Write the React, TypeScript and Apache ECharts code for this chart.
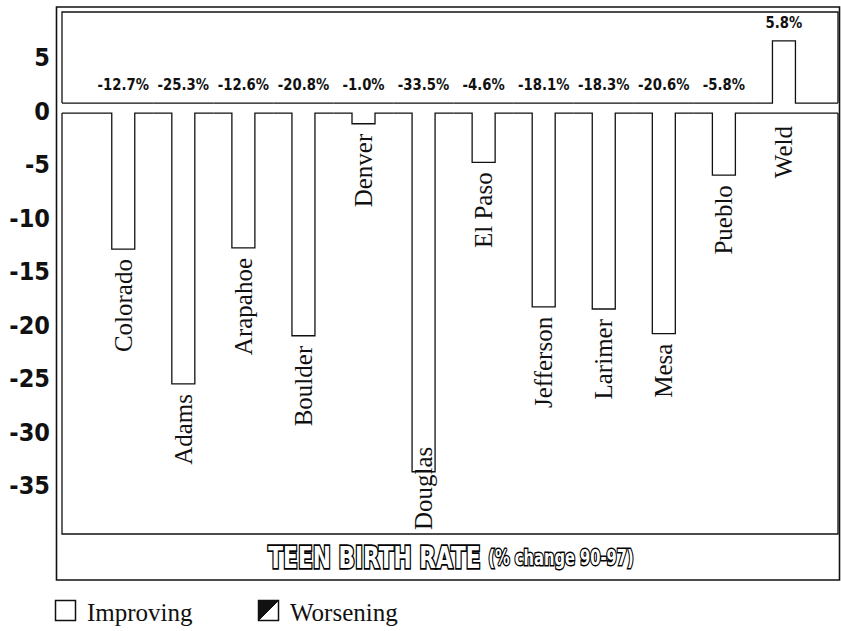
import React, { useEffect, useRef } from "react";
import * as echarts from "echarts";

const COUNTIES = ["Colorado", "Adams", "Arapahoe", "Boulder", "Denver", "Douglas", "El Paso", "Jefferson", "Larimer", "Mesa", "Pueblo", "Weld"];
const CHANGE = [-12.7, -25.3, -12.6, -20.8, -1.0, -33.5, -4.6, -18.1, -18.3, -20.6, -5.8, 5.8];
const Y_TICKS = [5, 0, -5, -10, -15, -20, -25, -30, -35];
const TITLE = "TEEN BIRTH RATE";
const SUBTITLE = "(% change 90-97)";
const LEGEND = ["Improving", "Worsening"];

const COND = '"DejaVu Sans Condensed", "Liberation Sans Narrow", "DejaVu Sans", sans-serif';
const WIDE = '"DejaVu Sans", "Liberation Sans", sans-serif';
const SERIF = '"Liberation Serif", "DejaVu Serif", serif';
const INK = "#111";

let measureCtx: CanvasRenderingContext2D | null = null;
function textWidth(t: string, font: string) {
  if (!measureCtx) measureCtx = document.createElement("canvas").getContext("2d");
  if (!measureCtx) return t.length * 12;
  measureCtx.font = font;
  return measureCtx.measureText(t).width;
}

function titleText(layer: "outline" | "fill") {
  const outline = layer === "outline";
  const part = (size: number, lw: number) => ({
    fontSize: size,
    fontFamily: WIDE,
    fontWeight: "bold",
    fill: outline ? "#000" : "#fff",
    stroke: outline ? "#000" : null,
    lineWidth: outline ? lw : 0,
  });
  return {
    type: "text",
    x: 451,
    y: 557,
    scaleX: 0.7,
    z: outline ? 10 : 11,
    style: {
      text: "{a|" + TITLE + "} {b|" + SUBTITLE + "}",
      align: "center",
      verticalAlign: "middle",
      ...part(31, 3.5),
      rich: { a: part(31, 3.5), b: part(21, 3) },
    },
  };
}

export default function App() {
  const ref = useRef<HTMLDivElement>(null);
  useEffect(() => {
    if (!ref.current) return;
    const chart = echarts.init(ref.current, null, { renderer: "svg" });
    const n = CHANGE.length;
    const data = CHANGE.map((v, i) => [i, v]);

    const renderItem = (params: any, api: any) => {
      const i = api.value(0);
      const v = api.value(1);
      const cs = params.coordSys;
      const left = cs.x, right = cs.x + cs.width, top = cs.y, bottom = cs.y + cs.height;
      const [xc, y0] = api.coord([i, 0]);
      const yv = api.coord([i, v])[1];
      const band = api.size([1, 0])[0];
      const bw = 23;
      const xl = xc - bw / 2, xr = xc + bw / 2;
      const bL = i === 0 ? left : xc - band / 2;
      const bR = i === n - 1 ? right : xc + band / 2;
      const yU = y0 - 8;
      const yL = y0 + 2;
      const line = { stroke: INK, lineWidth: 1.3, fill: null };
      const children: any[] = [];
      let upper: number[][], lower: number[][];
      let barEnd: number;
      if (v < 0) {
        barEnd = yv + 2;
        lower = [[bL, yL], [xl, yL], [xl, barEnd], [xr, barEnd], [xr, yL], [bR, yL]];
        upper = [[bL, yU], [bR, yU]];
      } else {
        barEnd = yv - 8;
        upper = [[bL, yU], [xl, yU], [xl, barEnd], [xr, barEnd], [xr, yU], [bR, yU]];
        lower = [[bL, yL], [bR, yL]];
      }
      children.push({ type: "polyline", shape: { points: upper }, style: line });
      children.push({ type: "polyline", shape: { points: lower }, style: line });
      if (i === 0) {
        children.push({ type: "polyline", shape: { points: [[left, yU], [left, top], [right, top], [right, yU]] }, style: line });
        children.push({ type: "polyline", shape: { points: [[left, yL], [left, bottom], [right, bottom], [right, yL]] }, style: line });
      }
      const labelY = (v < 0 ? yU : barEnd) - 18;
      children.push({
        type: "text",
        x: xc,
        y: labelY,
        scaleX: 0.92,
        style: {
          text: v.toFixed(1) + "%",
          fontFamily: COND,
          fontWeight: "bold",
          fontSize: 16,
          fill: INK,
          align: "center",
          verticalAlign: "middle",
        },
      });
      const name = COUNTIES[i];
      const w = textWidth(name, "25px " + SERIF);
      const start = v < 0 ? barEnd + 10 : yL + 13;
      let align = "right";
      let ny = start;
      if (start + w > bottom - 4) {
        align = "left";
        ny = bottom - 4;
      }
      children.push({
        type: "text",
        x: xc,
        y: ny,
        rotation: Math.PI / 2,
        style: {
          text: name,
          fontFamily: SERIF,
          fontSize: 25,
          fill: INK,
          align,
          verticalAlign: "middle",
        },
      });
      return { type: "group", children };
    };

    const option: any = {
      animation: false,
      backgroundColor: "#fff",
      grid: { left: 62, right: 3, top: 12, bottom: 97 },
      xAxis: { type: "value", min: -1.02, max: 11.9, show: false },
      yAxis: {
        type: "value",
        min: -39.5,
        max: 9.25,
        axisLine: { show: false },
        axisTick: { show: false },
        splitLine: { show: false },
        axisLabel: {
          customValues: Y_TICKS,
          margin: 12,
          fontFamily: COND,
          fontWeight: "bold",
          fontSize: 25,
          color: INK,
          formatter: (val: number) => String(val),
        },
      },
      series: [
        {
          type: "custom",
          name: "Teen birth rate change",
          data,
          clip: false,
          renderItem,
        },
      ],
      graphic: [
        { type: "rect", shape: { x: 56.5, y: 7, width: 783, height: 573 }, style: { fill: null, stroke: INK, lineWidth: 1.6 }, z: 0 },
        titleText("outline"),
        titleText("fill"),
        { type: "rect", shape: { x: 55.5, y: 600.5, width: 20, height: 20 }, style: { fill: "#fff", stroke: INK, lineWidth: 1.5 } },
        { type: "text", x: 87, y: 612, style: { text: LEGEND[0], fontFamily: SERIF, fontSize: 25, fill: INK, align: "left", verticalAlign: "middle" } },
        { type: "rect", shape: { x: 258.5, y: 600.5, width: 20, height: 20 }, style: { fill: "#fff", stroke: INK, lineWidth: 1.5 } },
        { type: "polygon", shape: { points: [[258.5, 600.5], [278.5, 600.5], [258.5, 620.5]] }, style: { fill: INK, stroke: INK, lineWidth: 1 } },
        { type: "text", x: 290, y: 612, style: { text: LEGEND[1], fontFamily: SERIF, fontSize: 25, fill: INK, align: "left", verticalAlign: "middle" } },
      ],
    };
    chart.setOption(option);
    return () => chart.dispose();
  }, []);
  return <div ref={ref} style={{ position: "fixed", left: 0, top: 0, width: 841, height: 631, background: "#fff" }} />;
}
